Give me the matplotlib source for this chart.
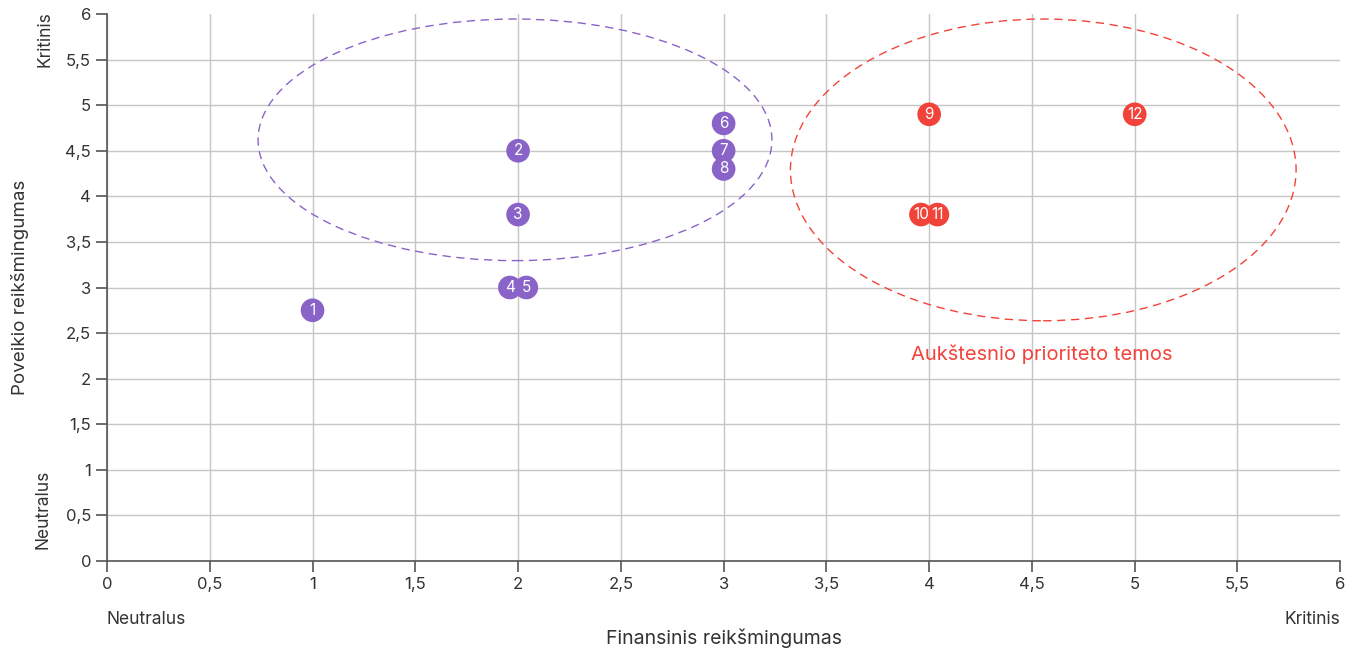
import matplotlib.pyplot as plt
from matplotlib.patches import Ellipse

plt.rcParams["font.family"] = ["Inter", "DejaVu Sans"]

# Duomenys
labels = ["1", "2", "3", "4", "5", "6", "7", "8", "9", "10", "11", "12"]
fin = [1, 2, 2, 1.96, 2.04, 3, 3, 3, 4, 3.96, 4.04, 5]
pov = [2.75, 4.5, 3.8, 3.0, 3.0, 4.8, 4.5, 4.3, 4.9, 3.8, 3.8, 4.9]
groups = ["p"] * 8 + ["r"] * 4

ticks = [0, 0.5, 1, 1.5, 2, 2.5, 3, 3.5, 4, 4.5, 5, 5.5, 6]
tick_labels = ["0", "0,5", "1", "1,5", "2", "2,5", "3", "3,5", "4", "4,5", "5", "5,5", "6"]

purple = "#8a63c9"
red = "#f2433b"
colors = {"p": purple, "r": red}
txt = "#333333"

fig = plt.figure(figsize=(13.56, 6.49), dpi=100)
ax = fig.add_axes([0.0789, 0.1356, 0.9095, 0.8428])

ax.set_xlim(0, 6)
ax.set_ylim(0, 6)
ax.set_xticks(ticks)
ax.set_yticks(ticks)
ax.set_xticklabels(tick_labels)
ax.set_yticklabels(tick_labels)
ax.tick_params(colors="#555555", labelcolor=txt, labelsize=12, length=8, width=1.2)

ax.grid(True, color="#c6c6c6", linewidth=1)
ax.get_xgridlines()[-1].set_visible(False)
ax.get_ygridlines()[-1].set_visible(False)
ax.set_axisbelow(True)

for s in ["top", "right"]:
    ax.spines[s].set_visible(False)
for s in ["left", "bottom"]:
    ax.spines[s].set_color("#555555")
    ax.spines[s].set_linewidth(1.2)

# Elipsės
ax.add_patch(Ellipse((1.985, 4.62), 2.5, 2.65, fill=False, edgecolor=purple,
                     linestyle=(0, (6, 4)), linewidth=1))
ax.add_patch(Ellipse((4.555, 4.29), 2.46, 3.31, fill=False, edgecolor=red,
                     linestyle=(0, (6, 4)), linewidth=1))

# Taškai
for x, y, lab, g in zip(fin, pov, labels, groups):
    ax.scatter(x, y, s=290, color=colors[g], zorder=3, edgecolors="none")
    ax.text(x, y, lab, color="white", fontsize=11, ha="center", va="center",
            zorder=4)

ax.text(4.55, 2.27, "Aukštesnio prioriteto temos", color=red, fontsize=14.5,
        ha="center", va="center")

# Ašių pavadinimai
ax.set_xlabel("Finansinis reikšmingumas", fontsize=14, color=txt, labelpad=26)
ax.set_ylabel("Poveikio reikšmingumas", fontsize=13.5, color=txt, labelpad=26)
ax.text(0, -0.64, "Neutralus", fontsize=12.5, color=txt, ha="left", va="center")
ax.text(6, -0.64, "Kritinis", fontsize=12.5, color=txt, ha="right", va="center")
fig.text(0.033, 0.94, "Kritinis", rotation=90, fontsize=12.5, color=txt,
         ha="center", va="center")
fig.text(0.032, 0.215, "Neutralus", rotation=90, fontsize=12.5, color=txt,
         ha="center", va="center")

fig.savefig("out.png", dpi=100)
